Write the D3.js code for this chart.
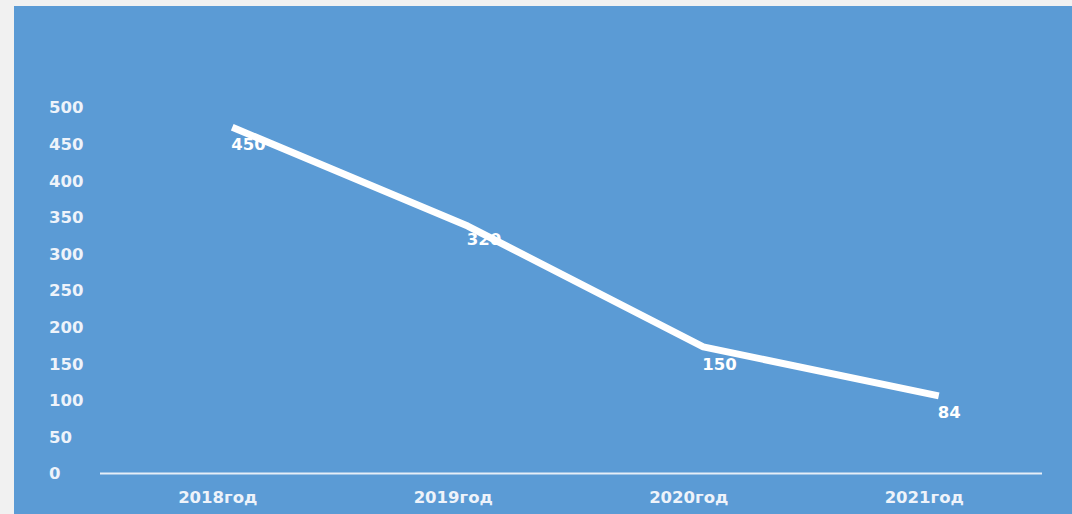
<!DOCTYPE html>
<html>
<head>
<meta charset="utf-8">
<script src="https://cdn.jsdelivr.net/npm/d3@7"></script>
<style>
  html, body { margin: 0; padding: 0; background: #F1F1F1; }
  svg { display: block; }
</style>
</head>
<body>
<svg id="chart" width="1072" height="514"></svg>
<script>
// ---- data ----
const categories = ["2018год", "2019год", "2020год", "2021год"];
const lineValues = [473, 338, 173, 106];   // plotted line as drawn
const labelValues = [450, 320, 150, 84];   // data labels as shown
const yTicks = [0, 50, 100, 150, 200, 250, 300, 350, 400, 450, 500];

// ---- layout ----
const W = 1072, H = 514;
const svg = d3.select("#chart");
const font = "'DejaVu Sans', Verdana, sans-serif";

svg.append("rect").attr("x", 0).attr("y", 0).attr("width", W).attr("height", H).attr("fill", "#F1F1F1");
svg.append("rect").attr("x", 14).attr("y", 6).attr("width", W - 14).attr("height", H - 6).attr("fill", "#5B9BD5");

const x = d3.scaleBand().domain(categories).range([100, 1042]).paddingInner(0).paddingOuter(0);
const y = d3.scaleLinear().domain([0, 500]).range([473.5, 107.5]);
const pointShift = 14.5;
const px = (c) => x(c) + x.bandwidth() / 2 + pointShift;

// y tick labels (left aligned)
svg.append("g").selectAll("text").data(yTicks).join("text")
  .attr("x", 49)
  .attr("y", d => y(d))
  .attr("dy", "0.36em")
  .attr("fill", "#EEF3FA")
  .attr("font-family", font)
  .attr("font-weight", "bold")
  .attr("font-size", 16.5)
  .text(d => d);

// x axis
const xAxis = d3.axisBottom(x).tickSize(0).tickPadding(18);
const gx = svg.append("g").attr("transform", `translate(0,${y(0)})`).call(xAxis);
gx.select(".domain").attr("stroke", "#E6EEF7").attr("stroke-width", 2.2).attr("d", "M100,0H1042");
gx.selectAll("text")
  .attr("fill", "#EEF3FA")
  .attr("font-family", font)
  .attr("font-weight", "bold")
  .attr("font-size", 16.5);

// line
const line = d3.line()
  .x((d, i) => px(categories[i]))
  .y(d => y(d));
svg.append("path")
  .datum(lineValues)
  .attr("d", line)
  .attr("fill", "none")
  .attr("stroke", "#FFFFFF")
  .attr("stroke-width", 7)
  .attr("stroke-linejoin", "round")
  .attr("stroke-linecap", "butt");

// data labels
svg.append("g").selectAll("text").data(labelValues).join("text")
  .attr("x", (d, i) => px(categories[i]) - 1)
  .attr("y", d => y(d))
  .attr("dy", "0.36em")
  .attr("fill", "#FFFFFF")
  .attr("font-family", font)
  .attr("font-weight", "bold")
  .attr("font-size", 16.5)
  .text(d => d);
</script>
</body>
</html>
